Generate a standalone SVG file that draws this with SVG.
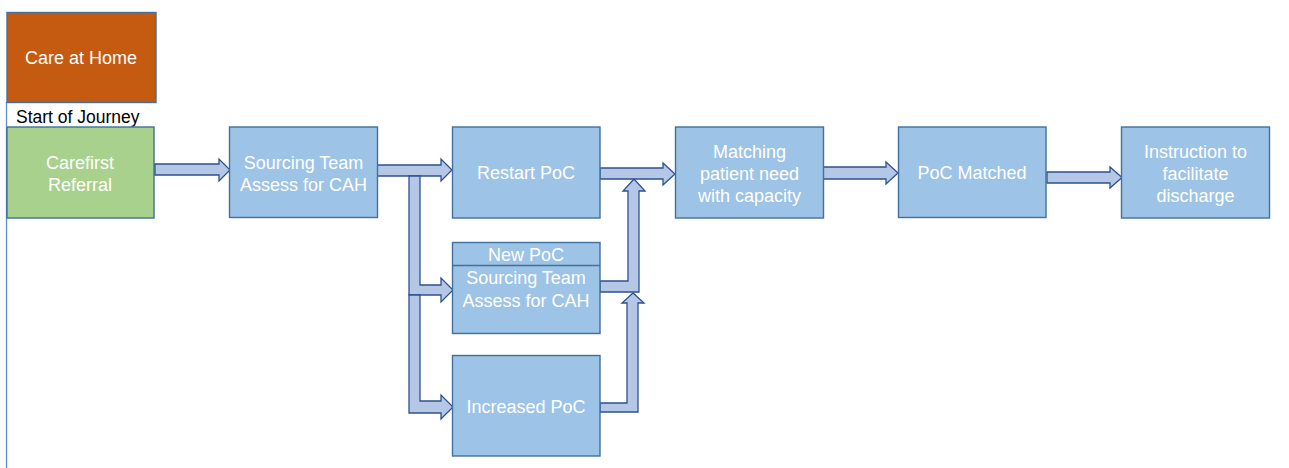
<svg xmlns="http://www.w3.org/2000/svg" width="1289" height="468" viewBox="0 0 1289 468">
<style>
.box{fill:#9DC3E6;stroke:#41719C;stroke-width:1.4}
.arr{fill:#B4C7E7;stroke:#2F528F;stroke-width:1.3;stroke-linejoin:miter}
.t{font-family:"Liberation Sans",Arial,sans-serif;font-size:18px;fill:#FFFFFF;text-anchor:middle}
.lbl{font-family:"Liberation Sans",Arial,sans-serif;font-size:17.5px;fill:#000000}
</style>
<rect width="1289" height="468" fill="#FFFFFF"/>
<line x1="6.5" y1="102" x2="6.5" y2="468" stroke="#5B8ED6" stroke-width="1.3"/>
<g id="care-at-home">
<rect x="7" y="12.5" width="149" height="90" fill="#C55A11" stroke="#41719C" stroke-width="1.4"/>
<text class="t" x="81" y="64">Care at Home</text>
</g>
<g id="start-label">
<text class="lbl" x="16" y="123">Start of Journey</text>
</g>
<g id="carefirst">
<rect x="7" y="127" width="147" height="91" fill="#A9D18E" stroke="#41719C" stroke-width="1.4"/>
<text class="t" x="80" y="169">Carefirst</text>
<text class="t" x="80" y="191">Referral</text>
</g>
<g id="connectors">
<polygon class="arr" points="155,164 219,164 219,159 230,170 219,181 219,175 155,175"/>
<polygon class="arr" points="377,165 441,165 441,159 452,170 441,181 441,176 377,176"/>
<polygon class="arr" points="409,176 420,176 420,285 441,285 441,278 453,290 441,302 441,295 409,295"/>
<polygon class="arr" points="409,295 420,295 420,401 441,401 441,395 453,407 441,419 441,413 409,413"/>
<polygon class="arr" points="600,168 663,168 663,163 675,174 663,185 663,179 600,179"/>
<polygon class="arr" points="600,281 628,281 628,191 623,191 634,179 645,191 639,191 639,292 600,292"/>
<polygon class="arr" points="600,403 627,403 627,303 622,303 633,293 644,303 638,303 638,412 600,412"/>
<polygon class="arr" points="823,167 886,167 886,162 898,173 886,184 886,179 823,179"/>
<polygon class="arr" points="1047,172 1110,172 1110,167 1122,177.5 1110,188 1110,183 1047,183"/>
</g>
<g id="sourcing">
<rect class="box" x="229.5" y="127" width="148" height="90.5"/>
<text class="t" x="303.5" y="169">Sourcing Team</text>
<text class="t" x="303.5" y="191">Assess for CAH</text>
</g>
<g id="restart">
<rect class="box" x="452.5" y="127" width="147.5" height="91"/>
<text class="t" x="526" y="179">Restart PoC</text>
</g>
<g id="new-poc">
<rect class="box" x="452.5" y="242.5" width="147.5" height="91"/>
<line x1="452.5" y1="265.5" x2="600" y2="265.5" stroke="#41719C" stroke-width="1.4"/>
<text class="t" x="526" y="261">New PoC</text>
<text class="t" x="526" y="284">Sourcing Team</text>
<text class="t" x="526" y="306.5">Assess for CAH</text>
</g>
<g id="increased">
<rect class="box" x="452.5" y="355.5" width="147.5" height="100.5"/>
<text class="t" x="526" y="413">Increased PoC</text>
</g>
<g id="matching">
<rect class="box" x="675.5" y="127" width="148" height="91"/>
<text class="t" x="749.5" y="158">Matching</text>
<text class="t" x="749.5" y="180">patient need</text>
<text class="t" x="749.5" y="202">with capacity</text>
</g>
<g id="poc-matched">
<rect class="box" x="898.5" y="127" width="147.5" height="90.5"/>
<text class="t" x="972" y="179">PoC Matched</text>
</g>
<g id="instruction">
<rect class="box" x="1121.5" y="127" width="148" height="91"/>
<text class="t" x="1195.5" y="158">Instruction to</text>
<text class="t" x="1195.5" y="180">facilitate</text>
<text class="t" x="1195.5" y="202">discharge</text>
</g>
</svg>
